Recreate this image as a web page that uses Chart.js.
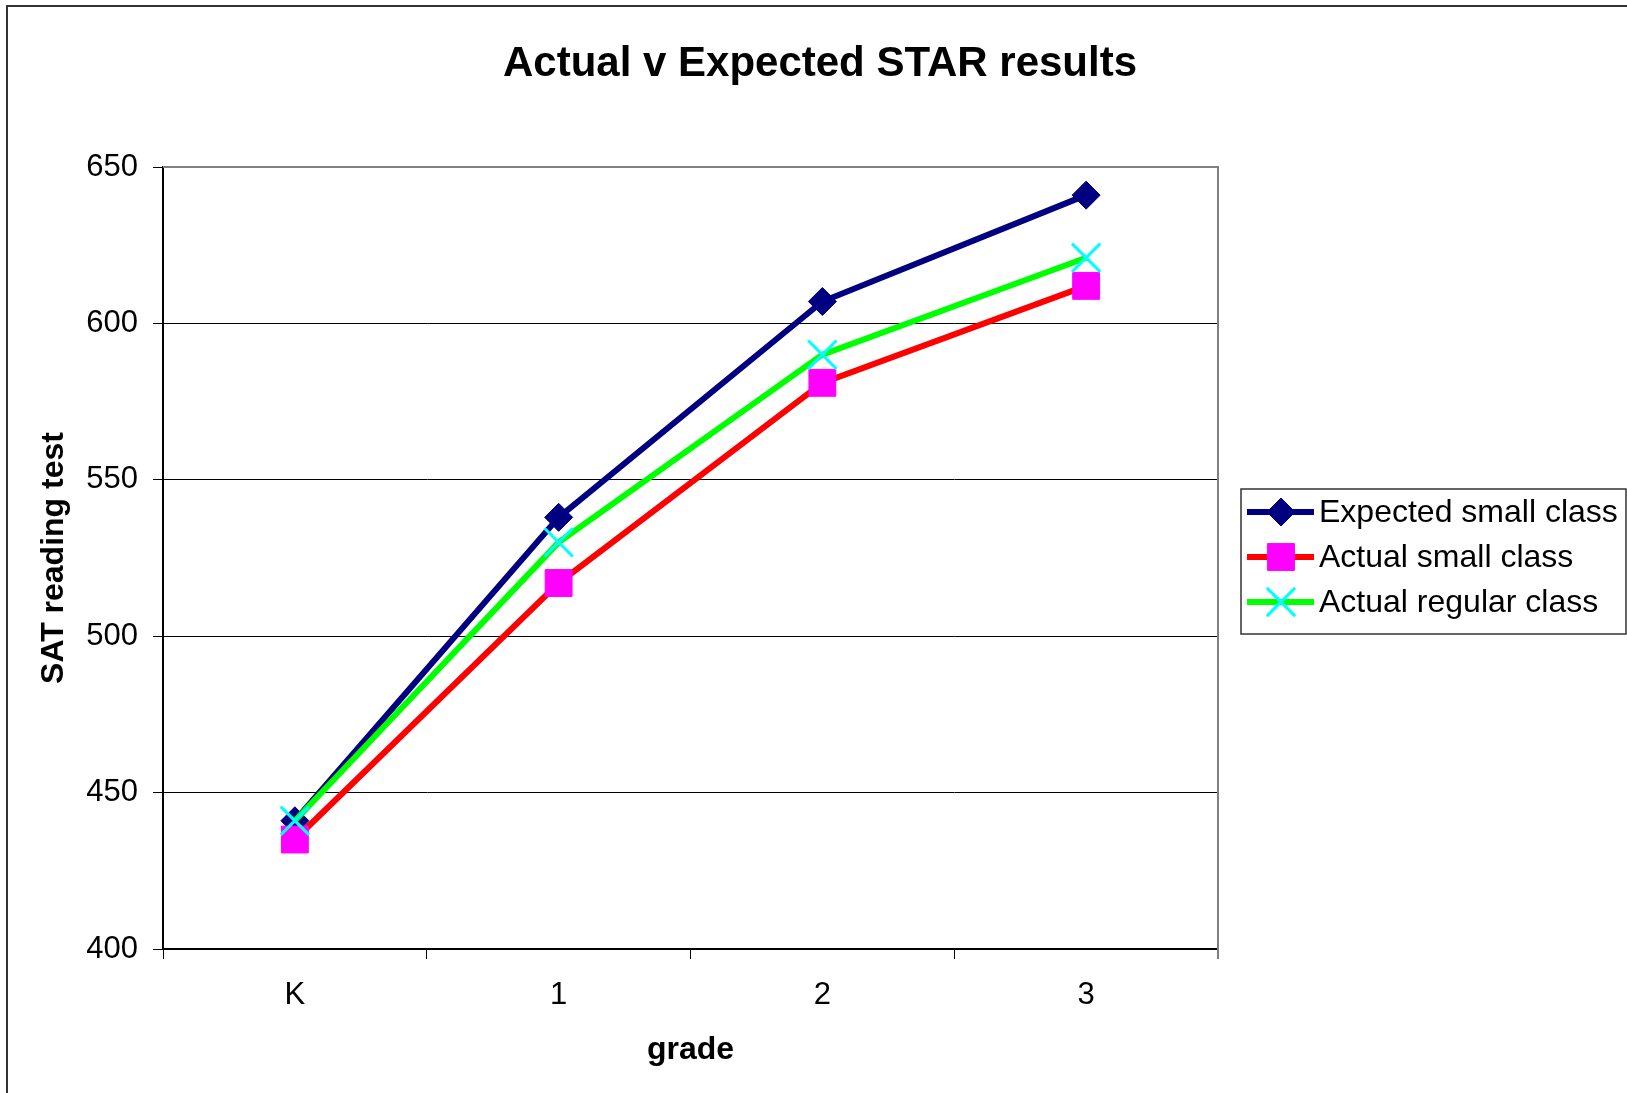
<!DOCTYPE html>
<html>
<head>
<meta charset="utf-8">
<script src="https://cdn.jsdelivr.net/npm/chart.js@4.4.1/dist/chart.umd.min.js"></script>
<style>
  html, body { margin: 0; padding: 0; background: #fff; }
  #wrap { width: 1627px; height: 1093px; }
</style>
</head>
<body>
<div id="wrap"><canvas id="myChart" width="1627" height="1093"></canvas></div>
<script>
const grades = ['K', '1', '2', '3'];
const expectedSmall = [441, 538, 607, 641];
const actualSmall = [435, 517, 581, 612];
const actualRegular = [441, 530, 590, 621];
const yTicks = [400, 450, 500, 550, 600, 650];
const chartTitle = 'Actual v Expected STAR results';

const FONT = "'Liberation Sans', Arial, sans-serif";

// frame round the whole chart, title, grey edge on plot area, boxed legend
const extras = {
    id: 'extras',
    beforeDraw(chart) {
        const ctx = chart.ctx;
        ctx.save();
        ctx.fillStyle = '#fff';
        ctx.fillRect(0, 0, chart.width, chart.height);
        ctx.restore();
    },
    afterDraw(chart) {
        const ctx = chart.ctx;
        const a = chart.chartArea;
        ctx.save();
        // title, centred over the plot + legend like Excel does
        ctx.fillStyle = '#000';
        ctx.font = 'bold 42px ' + FONT;
        ctx.textAlign = 'center';
        ctx.textBaseline = 'middle';
        ctx.fillText(chartTitle, 820, 64);
        // plot area top/right edge
        ctx.strokeStyle = '#808080';
        ctx.lineWidth = 2;
        ctx.beginPath();
        ctx.moveTo(a.left, a.top);
        ctx.lineTo(a.right, a.top);
        ctx.lineTo(a.right, a.bottom + 10);
        ctx.stroke();
        // outer frame
        ctx.strokeStyle = '#333';
        ctx.lineWidth = 2;
        ctx.beginPath();
        ctx.moveTo(7, chart.height);
        ctx.lineTo(7, 6);
        ctx.lineTo(chart.width, 6);
        ctx.stroke();
        // legend
        const bx = 1241, by = 489, bw = 385, bh = 145;
        ctx.strokeStyle = '#333';
        ctx.lineWidth = 1.5;
        ctx.strokeRect(bx, by, bw, bh);
        const rows = [512, 557, 602];
        chart.data.datasets.forEach((ds, i) => {
            const y = rows[i];
            ctx.strokeStyle = ds.borderColor;
            ctx.lineWidth = ds.borderWidth;
            ctx.beginPath();
            ctx.moveTo(1247, y);
            ctx.lineTo(1314, y);
            ctx.stroke();
            ctx.fillStyle = ds.pointBackgroundColor;
            ctx.strokeStyle = ds.pointBorderColor;
            ctx.lineWidth = ds.pointBorderWidth;
            Chart.helpers.drawPoint(ctx, {
                pointStyle: ds.pointStyle,
                radius: ds.pointRadius,
                borderWidth: ds.pointBorderWidth
            }, 1281, y);
            ctx.fillStyle = '#000';
            ctx.font = '32px ' + FONT;
            ctx.textBaseline = 'middle';
            ctx.textAlign = 'left';
            ctx.fillText(ds.label, 1319, y + 1);
        });
        ctx.restore();
    }
};

const ctx = document.getElementById('myChart').getContext('2d');
new Chart(ctx, {
    type: 'line',
    data: {
        labels: grades,
        datasets: [{
            label: 'Expected small class',
            data: expectedSmall,
            borderColor: '#000080',
            borderWidth: 6,
            pointStyle: 'rectRot',
            pointRadius: 14,
            pointBackgroundColor: '#000080',
            pointBorderColor: '#000080',
            pointBorderWidth: 1,
            order: 2
        }, {
            label: 'Actual small class',
            data: actualSmall,
            borderColor: '#ff0000',
            borderWidth: 6,
            pointStyle: 'rect',
            pointRadius: 19,
            pointBackgroundColor: '#ff00ff',
            pointBorderColor: '#ff00ff',
            pointBorderWidth: 1,
            order: 1
        }, {
            label: 'Actual regular class',
            data: actualRegular,
            borderColor: '#00ff00',
            borderWidth: 6,
            pointStyle: 'crossRot',
            pointRadius: 20,
            pointBackgroundColor: '#00ffff',
            pointBorderColor: '#00ffff',
            pointBorderWidth: 3,
            order: 0
        }]
    },
    options: {
        responsive: false,
        animation: false,
        devicePixelRatio: 1,
        layout: { padding: { left: 0, right: 409, top: 167, bottom: 0 } },
        elements: { line: { tension: 0 } },
        plugins: {
            legend: { display: false },
            tooltip: { enabled: false },
            title: { display: false }
        },
        scales: {
            x: {
                offset: true,
                grid: {
                    offset: true,
                    drawOnChartArea: false,
                    drawTicks: true,
                    tickLength: 10,
                    color: '#000',
                    tickColor: '#000'
                },
                border: { color: '#000', width: 2 },
                ticks: {
                    color: '#000',
                    padding: 18,
                    font: { family: FONT, size: 31 }
                },
                title: {
                    display: true,
                    text: 'grade',
                    color: '#000',
                    font: { family: FONT, size: 32, weight: 'bold' },
                    padding: { top: 0, bottom: 24 }
                },
                afterFit(s) { s.height = 144; }
            },
            y: {
                min: 400,
                max: 650,
                afterBuildTicks(s) { s.ticks = yTicks.map(v => ({ value: v })); },
                grid: {
                    color: '#000',
                    lineWidth: 1,
                    drawTicks: true,
                    tickLength: 10,
                    tickColor: '#000'
                },
                border: { color: '#000', width: 2 },
                ticks: {
                    color: '#000',
                    padding: 15,
                    font: { family: FONT, size: 31 }
                },
                title: {
                    display: true,
                    text: 'SAT reading test',
                    color: '#000',
                    font: { family: FONT, size: 32, weight: 'bold' },
                    padding: { top: 35, bottom: 0 }
                },
                afterFit(s) { s.width = 163; }
            }
        }
    },
    plugins: [extras]
});
</script>
</body>
</html>
